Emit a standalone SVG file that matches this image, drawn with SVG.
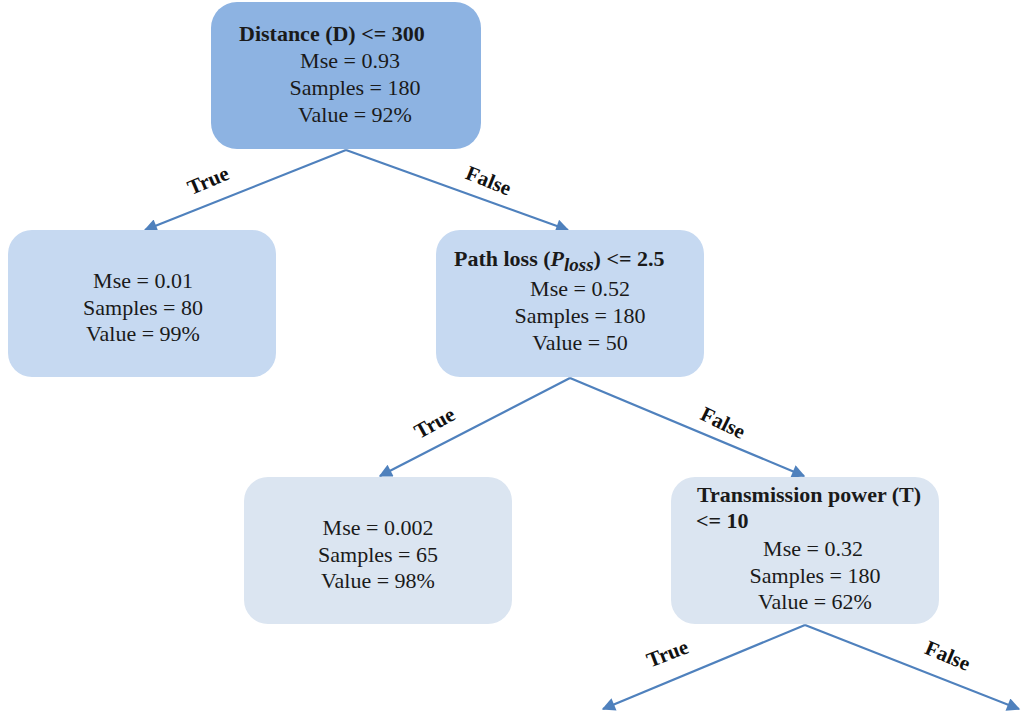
<svg xmlns="http://www.w3.org/2000/svg" width="1021" height="711" viewBox="0 0 1021 711">
<defs>
<marker id="ah" viewBox="0 0 10 10" refX="9" refY="5" markerWidth="7" markerHeight="6" markerUnits="strokeWidth" orient="auto">
<path d="M0,0 L10,5 L0,10 z" fill="#4f81bd"/>
</marker>
<style>
.box{stroke:none}
.t{font-family:"Liberation Serif","Times New Roman",serif;font-size:22px;fill:#1a1a1a}
.b{font-weight:bold}
.c{text-anchor:middle}
.lbl{font-family:"Liberation Serif","Times New Roman",serif;font-size:21px;font-weight:bold;fill:#111;text-anchor:middle}
.e{stroke:#4f81bd;stroke-width:2.2;fill:none;marker-end:url(#ah)}
</style>
</defs>
<rect width="1021" height="711" fill="#ffffff"/>
<g id="connectors">
<line class="e" x1="346" y1="150" x2="145" y2="230"/>
<line class="e" x1="346" y1="150" x2="568" y2="230"/>
<line class="e" x1="570" y1="378" x2="380" y2="476"/>
<line class="e" x1="570" y1="378" x2="804" y2="476"/>
<line class="e" x1="805" y1="625" x2="603" y2="709"/>
<line class="e" x1="805" y1="625" x2="1019" y2="709"/>
<text class="lbl" transform="translate(211,187) rotate(-23)">True</text>
<text class="lbl" transform="translate(486,187) rotate(22)">False</text>
<text class="lbl" transform="translate(438,429) rotate(-29)">True</text>
<text class="lbl" transform="translate(720,429) rotate(26)">False</text>
<text class="lbl" transform="translate(670,660) rotate(-21)">True</text>
<text class="lbl" transform="translate(945,662) rotate(23)">False</text>
</g>
<g id="node-root">
<rect class="box" x="211" y="2" width="270" height="147" rx="26" fill="#8db3e2"/>
<text class="t b" x="239" y="41">Distance (D) &lt;= 300</text>
<text class="t c" x="350" y="68">Mse = 0.93</text>
<text class="t c" x="355" y="95">Samples = 180</text>
<text class="t c" x="355" y="122">Value = 92%</text>
</g>
<g id="node-leaf1">
<rect class="box" x="8" y="230" width="268" height="147" rx="24" fill="#c6d9f1"/>
<text class="t c" x="143" y="288">Mse = 0.01</text>
<text class="t c" x="143" y="315">Samples = 80</text>
<text class="t c" x="143" y="341">Value = 99%</text>
</g>
<g id="node-pathloss">
<rect class="box" x="436" y="230" width="268" height="147" rx="24" fill="#c6d9f1"/>
<text class="t b" x="454" y="266">Path loss (<tspan font-style="italic">P</tspan><tspan font-style="italic" font-size="19" dy="5">loss</tspan><tspan dy="-5">) &lt;= 2.5</tspan></text>
<text class="t c" x="580" y="296">Mse = 0.52</text>
<text class="t c" x="580" y="323">Samples = 180</text>
<text class="t c" x="580" y="350">Value = 50</text>
</g>
<g id="node-leaf2">
<rect class="box" x="244" y="477" width="268" height="147" rx="24" fill="#dbe5f1"/>
<text class="t c" x="378" y="535">Mse = 0.002</text>
<text class="t c" x="378" y="562">Samples = 65</text>
<text class="t c" x="378" y="588">Value = 98%</text>
</g>
<g id="node-power">
<rect class="box" x="671" y="477" width="268" height="147" rx="24" fill="#dbe5f1"/>
<text class="t b" x="697" y="502">Transmission power (T)</text>
<text class="t b" x="696" y="528">&lt;= 10</text>
<text class="t c" x="813" y="556">Mse = 0.32</text>
<text class="t c" x="815" y="583">Samples = 180</text>
<text class="t c" x="815" y="609">Value = 62%</text>
</g>
</svg>
